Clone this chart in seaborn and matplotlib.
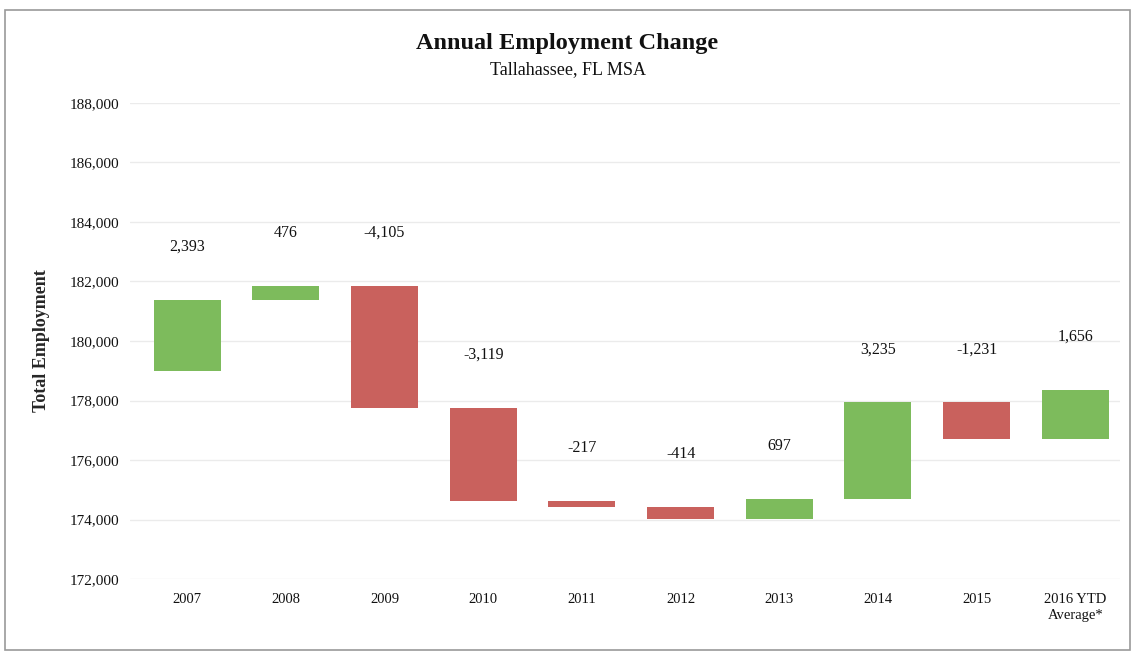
import numpy as np
import pandas as pd
import matplotlib.pyplot as plt
import seaborn as sns
from matplotlib.ticker import FuncFormatter
from matplotlib.patches import Rectangle

years = ["2007", "2008", "2009", "2010", "2011", "2012", "2013", "2014", "2015", "2016 YTD\nAverage*"]
changes = [2393, 476, -4105, -3119, -217, -414, 697, 3235, -1231, 1656]
start_level = 178990

# waterfall: each bar starts where the previous one ended
ends = start_level + np.cumsum(changes)
starts = ends - np.array(changes)
df = pd.DataFrame({"year": years, "change": changes, "start": starts})

green = "#7dbb5c"
red = "#c9615d"

sns.set_theme(style="white")
plt.rcParams['font.family'] = ['Liberation Serif', 'DejaVu Serif']

fig = plt.figure(figsize=(11.35, 6.53), dpi=100)
ax = fig.add_axes([0.1145, 0.1133, 0.872, 0.729])

sns.barplot(data=df, x="year", y="change", bottom=df["start"].values,
            width=0.68, ax=ax, order=years, color=green, saturation=1)
for patch, ch in zip(ax.patches, changes):
    patch.set_facecolor(green if ch > 0 else red)
    patch.set_edgecolor("none")

for i, (s, ch) in enumerate(zip(starts, changes)):
    top = max(s, s + ch)
    ax.annotate(f"{ch:,}", (i, top), xytext=(0, 38), textcoords="offset points",
                ha="center", va="center", fontsize=11.5, color="#111111")

ax.set_ylim(172000, 188000)
ax.set_yticks(np.arange(172000, 188001, 2000))
ax.yaxis.set_major_formatter(FuncFormatter(lambda v, p: f"{int(v):,}"))
ax.set_xlim(-0.58, 9.45)
ax.grid(axis="y", color="#ebebeb", linewidth=1)
ax.set_axisbelow(True)
sns.despine(ax=ax, left=True, bottom=True)
ax.tick_params(axis="both", length=0, labelsize=10.5, labelcolor="#111111")
ax.tick_params(axis="y", labelsize=11, pad=8)
ax.tick_params(axis="x", pad=10)
ax.set_xlabel("")
ax.set_ylabel("Total Employment", fontsize=13, fontweight="bold", labelpad=14)
for lbl in ax.get_xticklabels():
    lbl.set_verticalalignment("top")
    lbl.set_linespacing(1.3)

fig.text(0.5, 0.934, "Annual Employment Change", ha="center", va="center",
         fontsize=17.5, fontweight="bold", color="#111111")
fig.text(0.5, 0.893, "Tallahassee, FL MSA", ha="center", va="center",
         fontsize=13, color="#111111")

fig.patches.append(Rectangle((0.004, 0.004), 0.992, 0.98, transform=fig.transFigure,
                             fill=False, edgecolor="#9a9a9a", linewidth=1.2))

fig.savefig("out.png", dpi=100)
